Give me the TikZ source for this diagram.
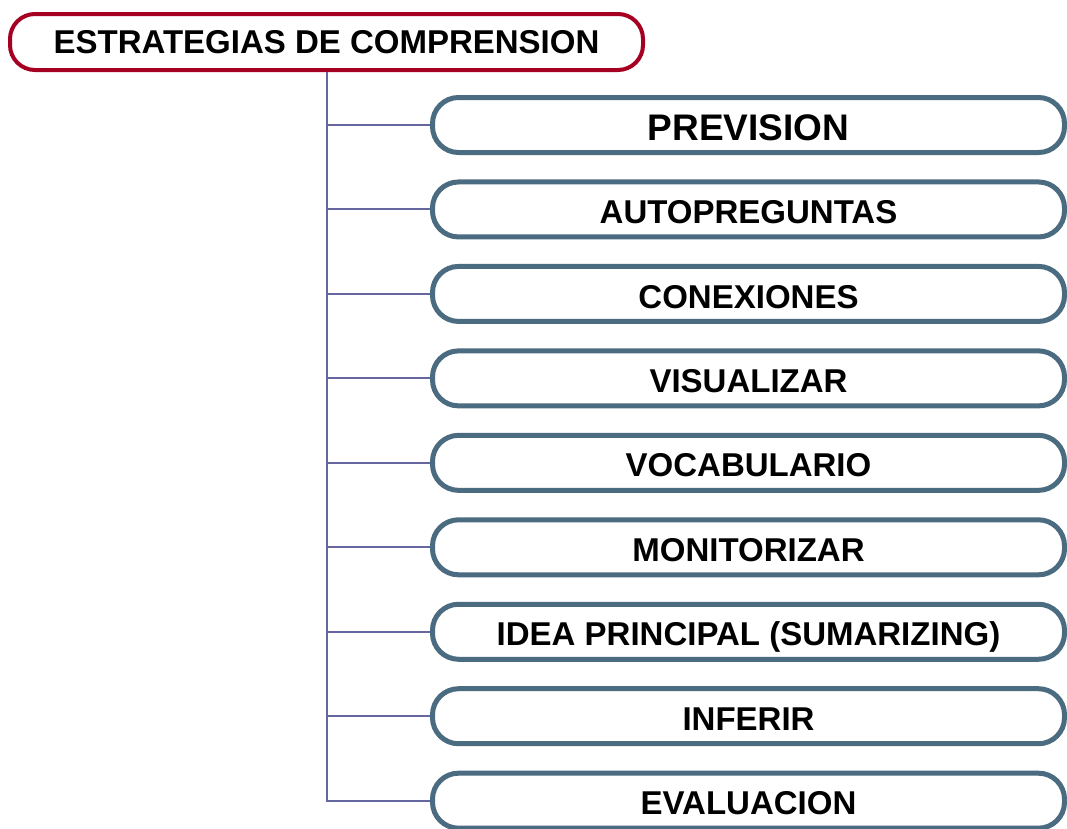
\documentclass[tikz,border=0pt]{standalone}
\usepackage{fontspec}
\setmainfont{Liberation Sans}
\definecolor{rootred}{HTML}{A50021}
\definecolor{boxblue}{HTML}{4A6B80}
\definecolor{connline}{HTML}{6666A0}
\tikzset{
  rootbox/.style={draw=rootred, line width=3pt, rounded corners=18.75pt, fill=white,
    minimum width=474.75pt, minimum height=42pt, inner sep=0pt,
    font=\bfseries\fontsize{24.75}{28}\selectfont},
  itembox/.style={draw=boxblue, line width=3.75pt, rounded corners=19.5pt, fill=white,
    minimum width=474pt, minimum height=41.25pt, inner sep=0pt,
    text height=21.2pt, text depth=0pt,
    font=\bfseries\fontsize{24.75}{28}\selectfont},
  bigtext/.style={text height=23.9pt, font=\bfseries\fontsize{27.75}{30}\selectfont},
  conn/.style={draw=connline, line width=1.5pt}
}
\begin{document}
\begin{tikzpicture}[x=0.75pt, y=-0.75pt]
\useasboundingbox (0,0) rectangle (1067,828);
\node[rootbox] (root) at (326.5,42) {ESTRATEGIAS DE COMPRENSION};
\node[itembox, bigtext] (n1) at (748.5,125.00) {PREVISION};
\node[itembox] (n2) at (748.5,209.46) {AUTOPREGUNTAS};
\node[itembox] (n3) at (748.5,293.92) {CONEXIONES};
\node[itembox] (n4) at (748.5,378.38) {VISUALIZAR};
\node[itembox] (n5) at (748.5,462.84) {VOCABULARIO};
\node[itembox] (n6) at (748.5,547.30) {MONITORIZAR};
\node[itembox] (n7) at (748.5,631.76) {IDEA PRINCIPAL (SUMARIZING)};
\node[itembox] (n8) at (748.5,716.22) {INFERIR};
\node[itembox] (n9) at (748.5,800.68) {EVALUACION};
\foreach \n in {n1,n2,n3,n4,n5,n6,n7,n8,n9}{
  \draw[conn] (root.south) |- (\n.west);
}
\end{tikzpicture}
\end{document}
